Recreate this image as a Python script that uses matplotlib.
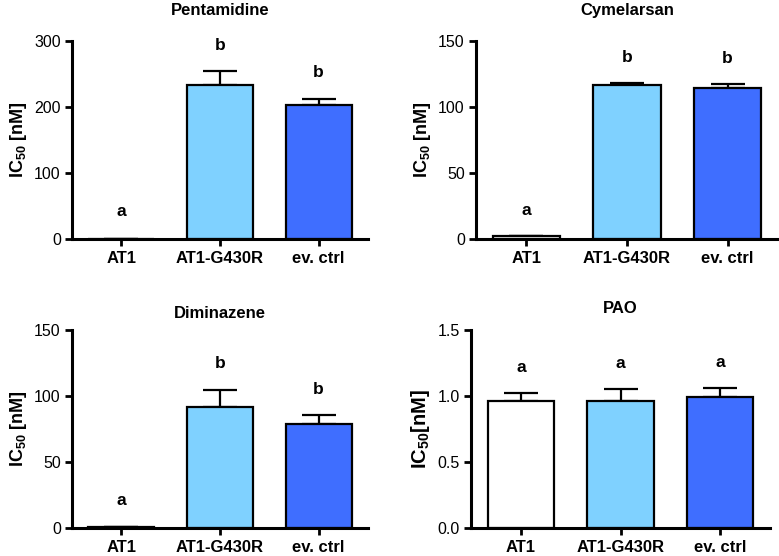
import matplotlib
matplotlib.use("Agg")
import matplotlib.pyplot as plt

plt.rcParams['font.family'] = ['Liberation Sans', 'DejaVu Sans']
plt.rcParams['mathtext.fontset'] = 'custom'
plt.rcParams['mathtext.rm'] = 'Liberation Sans'
plt.rcParams['mathtext.bf'] = 'Liberation Sans:bold'

groups = ["AT1", "AT1-G430R", "ev. ctrl"]
colors = ["#ffffff", "#7fd1ff", "#3f6eff"]

# drug panels: mean IC50, upper SEM, significance letters
pent_mean = [0.5, 233, 203]
pent_err = [0.0, 22, 9]
pent_letters = ["a", "b", "b"]

cyme_mean = [2.3, 116.4, 114.4]
cyme_err = [0.3, 2.0, 3.0]
cyme_letters = ["a", "b", "b"]

dimi_mean = [0.6, 91.6, 78.7]
dimi_err = [0.0, 13, 7]
dimi_letters = ["a", "b", "b"]

pao_mean = [0.965, 0.965, 0.995]
pao_err = [0.06, 0.09, 0.07]
pao_letters = ["a", "a", "a"]

fig = plt.figure(figsize=(7.79, 5.56), dpi=100)

panels = [
    ("Pentamidine", pent_mean, pent_err, pent_letters, 300, [0, 100, 200, 300], "%d",
     [0.0924, 0.5701, 0.38, 0.3562], r"$\mathbf{IC_{50}}$ [nM]", 1.09),
    ("Cymelarsan", cyme_mean, cyme_err, cyme_letters, 150, [0, 50, 100, 150], "%d",
     [0.611, 0.5701, 0.3877, 0.3562], r"$\mathbf{IC_{50}}$ [nM]", 1.09),
    ("Diminazene", dimi_mean, dimi_err, dimi_letters, 150, [0, 50, 100, 150], "%d",
     [0.0924, 0.0509, 0.38, 0.3556], r"$\mathbf{IC_{50}}$ [nM]", 1.02),
    ("PAO", pao_mean, pao_err, pao_letters, 1.5, [0, 0.5, 1.0, 1.5], "%.1f",
     [0.6046, 0.0498, 0.3839, 0.3567], r"IC$_{\mathbf{50}}$[nM]", 1.045),
]

letter_off = [[41, 38, 40], [19, 19, 19], [20, 20, 19], [0.19, 0.19, 0.19]]

for k, (title, mean, err, letters, ymax, ticks, fmt, rect, ylab, ty) in enumerate(panels):
    ax = fig.add_axes(rect)
    x = range(len(groups))
    ax.bar(x, mean, width=0.667, color=colors, edgecolor="black", linewidth=1.6, zorder=2)
    ax.errorbar(x, mean, yerr=[[0] * 3, err], fmt="none", ecolor="black",
                elinewidth=1.6, capsize=12, capthick=1.6, zorder=1)
    for i in x:
        ax.text(i, mean[i] + err[i] + letter_off[k][i], letters[i], ha="center", va="center",
                fontsize=12.5, fontweight="bold")
    ax.set_xlim(-0.5, 2.5)
    ax.set_ylim(0, ymax)
    ax.set_yticks(ticks)
    ax.set_yticklabels([fmt % t for t in ticks])
    ax.set_xticks(list(x))
    ax.set_xticklabels(groups, fontweight="bold", fontsize=12)
    ax.spines[["top", "right"]].set_visible(False)
    for s in ["left", "bottom"]:
        ax.spines[s].set_linewidth(2.2)
    ax.tick_params(axis="both", width=2.0, length=5)
    ax.tick_params(axis="y", pad=3, labelsize=11.5)
    ax.set_ylabel(ylab, fontsize=14.5 if k == 3 else 13, fontweight="bold")
    ax.set_title(title, fontsize=12, fontweight="bold", y=ty)

fig.savefig("out.png", dpi=100)
